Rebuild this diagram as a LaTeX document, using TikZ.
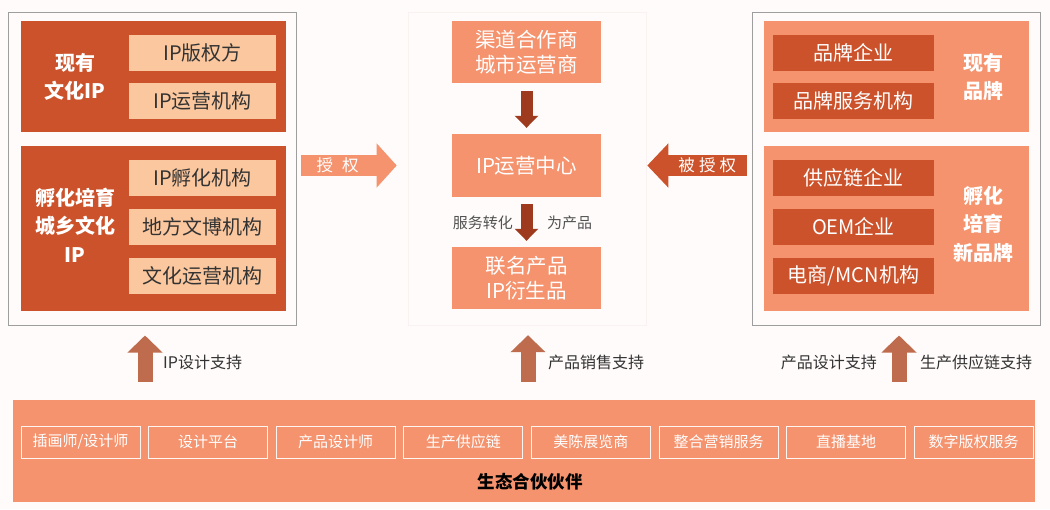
\documentclass[tikz,border=0pt]{standalone}
\usepackage{fontspec}
\setmainfont{Noto Sans CJK SC}
\usetikzlibrary{arrows.meta}
\definecolor{bgc}{RGB}{255,251,250}
\definecolor{darkc}{RGB}{203,82,42}
\definecolor{lightc}{RGB}{251,199,158}
\definecolor{midc}{RGB}{244,147,110}
\definecolor{brownc}{RGB}{158,58,30}
\definecolor{upc}{RGB}{190,108,77}
\definecolor{txtc}{RGB}{51,51,51}
\definecolor{panelc}{RGB}{249,242,240}
\begin{document}
\begin{tikzpicture}[x=1pt,y=-1pt,
  outerbox/.style={draw=black!38, line width=1pt, inner sep=0pt},
  panelbox/.style={draw=panelc, line width=0.6pt, inner sep=0pt},
  darkpanel/.style={fill=darkc, inner sep=0pt},
  midpanel/.style={fill=midc, inner sep=0pt},
  lightitem/.style={fill=lightc, text=txtc, inner sep=0pt, minimum width=147pt, minimum height=36pt, font=\fontsize{20}{23}\selectfont},
  darkitem/.style={fill=darkc, text=white, inner sep=0pt, minimum width=161pt, minimum height=36pt, font=\fontsize{20}{23}\selectfont},
  boldlabel/.style={text=white, align=center, inner sep=0pt, font=\bfseries\fontsize{20}{28.5}\selectfont},
  centerbox/.style={fill=midc, text=white, align=center, inner sep=0pt, minimum width=149pt, font=\fontsize{20.5}{24.5}\selectfont},
  downarrow/.style={draw=brownc, line width=12pt, -{Triangle[width=23pt,length=12pt]}},
  uparrow/.style={draw=upc, line width=15pt, -{Triangle[width=34pt,length=17pt]}},
  sidelabel/.style={text=txtc, inner sep=0pt, font=\fontsize{16}{20}\selectfont},
  smalllabel/.style={text=txtc!85, inner sep=0pt, font=\fontsize{15}{18}\selectfont},
  banditem/.style={draw=white!90!midc, line width=1pt, text=white, inner sep=0pt, minimum width=119pt, minimum height=32pt, font=\fontsize{15}{18}\selectfont},
  arrowtext/.style={text=white, inner sep=0pt, font=\fontsize{16.5}{20}\selectfont}
]
\fill[bgc] (0,0) rectangle (1050,509);
\useasboundingbox (0,0) rectangle (1050,509);

% ---- left group
\node[outerbox, minimum width=288pt, minimum height=313pt] (lout) at (152,168.5) {};
\node[darkpanel, minimum width=265pt, minimum height=111pt] (ltop) at (153.5,76.5) {};
\node[darkpanel, minimum width=265pt, minimum height=165pt] (lbot) at (153.5,228.5) {};
\node[boldlabel] (ltoplab) at (75,77) {现有\\文化IP};
\node[boldlabel] (lbotlab) at (75,225) {孵化培育\\城乡文化\\IP};
\node[lightitem] (l1) at (202.5,53) {IP版权方};
\node[lightitem] (l2) at (202.5,101) {IP运营机构};
\node[lightitem] (l3) at (202.5,177.5) {IP孵化机构};
\node[lightitem] (l4) at (202.5,226.5) {地方文博机构};
\node[lightitem] (l5) at (202.5,276) {文化运营机构};

% ---- center group
\node[panelbox, minimum width=238pt, minimum height=313pt] (cpanel) at (527,168.5) {};
\node[centerbox, minimum height=62pt] (c1) at (526.5,52) {渠道合作商\\城市运营商};
\node[centerbox, minimum height=63pt] (c2) at (526.5,165.5) {IP运营中心};
\node[centerbox, minimum height=62pt] (c3) at (526.5,278) {联名产品\\IP衍生品};
\draw[downarrow, shorten <=8pt, shorten >=6pt] (c1.south) -- (c2.north);
\draw[downarrow, shorten <=7pt, shorten >=6pt] (c2.south) -- (c3.north);
\node[smalllabel, anchor=east] (conv1) at (513,223) {服务转化};
\node[smalllabel, anchor=west] (conv2) at (547,223) {为产品};

% ---- right group
\node[outerbox, minimum width=288pt, minimum height=313pt] (rout) at (896,168.5) {};
\node[midpanel, minimum width=265pt, minimum height=111pt] (rtop) at (896.5,76.5) {};
\node[midpanel, minimum width=265pt, minimum height=165pt] (rbot) at (896.5,228.5) {};
\node[boldlabel] (rtoplab) at (983,77) {现有\\品牌};
\node[boldlabel] (rbotlab) at (983,224) {孵化\\培育\\新品牌};
\node[darkitem] (r1) at (853.5,53) {品牌企业};
\node[darkitem] (r2) at (853.5,101) {品牌服务机构};
\node[darkitem] (r3) at (853.5,177.5) {供应链企业};
\node[darkitem] (r4) at (853.5,226.5) {OEM企业};
\node[darkitem] (r5) at (853.5,276) {电商/MCN机构};

% ---- horizontal arrows
\draw[draw=midc, line width=21pt, -{Triangle[width=43pt,length=20pt]}, shorten <=4pt, shorten >=11pt]
  (lout.east |- c2.center) -- (cpanel.west |- c2.center)
  node[arrowtext, pos=0.37] (auth) {授\hspace{0.55em}权};
\draw[draw=darkc, line width=21pt, -{Triangle[width=43pt,length=21pt]}, shorten <=5pt, shorten >=1pt]
  (rout.west |- c2.center) -- (cpanel.east |- c2.center)
  node[arrowtext, pos=0.42] (bauth) {被\hspace{0.25em}授\hspace{0.25em}权};

% ---- bottom band
\node[midpanel, minimum width=1022pt, minimum height=102pt] (band) at (524,451) {};
\node[banditem] (b1) at (80.5,442) {插画师/设计师};
\node[banditem] (b2) at (208.1,442) {设计平台};
\node[banditem] (b3) at (335.7,442) {产品设计师};
\node[banditem] (b4) at (463.3,442) {生产供应链};
\node[banditem] (b5) at (590.9,442) {美陈展览商};
\node[banditem] (b6) at (718.5,442) {整合营销服务};
\node[banditem] (b7) at (846.1,442) {直播基地};
\node[banditem] (b8) at (973.7,442) {数字版权服务};
\node[inner sep=0pt, text=black, font=\bfseries\fontsize{17.5}{20}\selectfont] (bandlab) at (530,482) {生态合伙伙伴};

% ---- up arrows
\coordinate (ax1) at (145,0);
\coordinate (ax2) at (528,0);
\coordinate (ax3) at (899,0);
\draw[uparrow, shorten <=18pt, shorten >=10pt] (band.north -| ax1) -- (lout.south -| ax1);
\draw[uparrow, shorten <=18pt, shorten >=26pt] (band.north -| ax2) -- (c3.south -| ax2);
\draw[uparrow, shorten <=18pt, shorten >=10pt] (band.north -| ax3) -- (rout.south -| ax3);
\node[sidelabel, anchor=west] (s1) at (163,362) {IP设计支持};
\node[sidelabel, anchor=west] (s2) at (548,362) {产品销售支持};
\node[sidelabel, anchor=east] (s3) at (877,362) {产品设计支持};
\node[sidelabel, anchor=west] (s4) at (920,362) {生产供应链支持};
\end{tikzpicture}
\end{document}
